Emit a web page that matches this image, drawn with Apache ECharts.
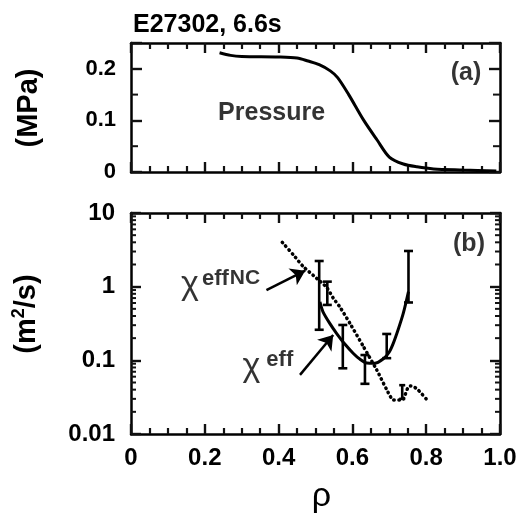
<!DOCTYPE html>
<html><head><meta charset="utf-8">
<script src="https://cdn.jsdelivr.net/npm/echarts@6/dist/echarts.min.js"></script>
<style>html,body{margin:0;padding:0;background:#fff}#c{width:522px;height:519px}</style>
</head><body><div id="c"></div>
<script>
// ---- tick labels ----
const xTickLabels = ['0', '0.2', '0.4', '0.6', '0.8', '1.0'];
const pTickLabels = ['0', '0.1', '0.2'];
const chiTickLabels = ['0.01', '0.1', '1', '10'];

// ---- panel (a): pressure profile ----
const pressureRho = [0.24, 0.27, 0.30, 0.40, 0.45, 0.48, 0.51, 0.54, 0.56, 0.59, 0.63, 0.667, 0.70, 0.738, 0.775, 0.82, 0.90, 0.99];
const pressureVal = [0.231, 0.226, 0.224, 0.223, 0.221, 0.215, 0.208, 0.196, 0.183, 0.150, 0.101, 0.062, 0.029, 0.0155, 0.010, 0.006, 0.004, 0.002];

// ---- panel (b): chi_eff^NC (dotted) ----
const ncRho = [0.41, 0.44, 0.467, 0.503, 0.53, 0.548, 0.566, 0.593, 0.63, 0.666, 0.693, 0.711, 0.735, 0.75, 0.758, 0.775, 0.80];
const ncVal = [4.0, 2.7, 1.87, 1.3, 0.98, 0.7, 0.53, 0.32, 0.153, 0.074, 0.040, 0.029, 0.029, 0.042, 0.045, 0.041, 0.030];

// ---- panel (b): chi_eff (solid) ----
const chiRho = [0.512, 0.52, 0.54, 0.557, 0.58, 0.602, 0.62, 0.639, 0.66, 0.684, 0.70, 0.711, 0.725, 0.738, 0.752];
const chiVal = [0.62, 0.46, 0.31, 0.233, 0.165, 0.125, 0.104, 0.092, 0.091, 0.105, 0.13, 0.171, 0.27, 0.436, 0.855];

// ---- error bars ----
const ebRho = [0.510, 0.532, 0.574, 0.634, 0.693, 0.752, 0.735];
const ebLow = [0.26, 0.565, 0.078, 0.048, 0.107, 0.61, 0.030];
const ebHigh = [2.23, 1.17, 0.302, 0.118, 0.228, 3.05, 0.046];

// ---- annotation anchors (data space) ----
const arrowFromRho = [0.367, 0.458];
const arrowFromVal = [0.90, 0.0634];
const arrowToRho = [0.472, 0.548];
const arrowToVal = [1.65, 0.221];
const chiLabelRho = [0.137, 0.3035];
const chiLabelVal = [0.748, 0.0577];
const chiLabelText = ['{chi|χ}{sub1|eff}{sup|NC}', '{chi|χ}{sub2|eff}'];
const aTextRho = [0.381, 0.908];
const aTextVal = [0.1146, 0.192];
const aTextStr = ['Pressure', '(a)'];
const bTextRho = [0.916];
const bTextVal = [3.8];
const bTextStr = ['(b)'];

const FONT = '"Liberation Sans", Arial, Helvetica, sans-serif';
const BLACK = '#000';
const TICK = '#111111';
const MINOR = '#121212';
const CTICK = '#131313';

const pMinor = [0.05, 0.15];
const logMinor = [];
for (const d of [0.01, 0.1, 1]) for (let k = 2; k <= 9; k++) logMinor.push(+(k * d).toPrecision(3));

function zip(a, b) { return a.map((v, i) => [v, b[i]]); }

function xAxisCfg(grid, pos, showLabel) {
  return {
    type: 'value', gridIndex: grid, position: pos, min: 0, max: 1, interval: 0.2,
    axisLine: { show: true, onZero: false, lineStyle: { color: BLACK, width: 2.5 } },
    axisTick: { show: true, inside: true, length: 10, lineStyle: { color: TICK, width: 2.4 } },
    minorTick: { show: true, splitNumber: 4, length: 6, lineStyle: { color: MINOR, width: 2.2 } },
    axisLabel: {
      show: showLabel, margin: 12, color: BLACK, fontFamily: FONT, fontWeight: 'bold', fontSize: 24,
      formatter: v => { const i = Math.round(v / 0.2); return Math.abs(v - i * 0.2) < 1e-6 ? xTickLabels[i] : ''; }
    },
    splitLine: { show: false }, minorSplitLine: { show: false }
  };
}
function yLinCfg(grid, pos, showLabel) {
  return {
    type: 'value', gridIndex: grid, position: pos, min: 0, max: 0.25, interval: 0.1,
    axisLine: { show: true, onZero: false, lineStyle: { color: BLACK, width: 2.5 } },
    axisTick: { show: true, inside: true, length: 11, lineStyle: { color: TICK, width: 2.4 } },
    axisLabel: {
      show: showLabel, margin: 15, color: BLACK, fontFamily: FONT, fontWeight: 'bold', fontSize: 22,
      formatter: v => { const i = Math.round(v / 0.1); return Math.abs(v - i * 0.1) < 1e-6 && i < pTickLabels.length ? pTickLabels[i] : ''; }
    },
    splitLine: { show: false }
  };
}
function yLogCfg(grid, pos, showLabel) {
  return {
    type: 'log', logBase: 10, gridIndex: grid, position: pos, min: 0.01, max: 10, splitNumber: 3,
    axisLine: { show: true, onZero: false, lineStyle: { color: BLACK, width: 2.5 } },
    axisTick: { show: true, inside: true, length: 10, lineStyle: { color: TICK, width: 2.4 } },
    axisLabel: {
      show: showLabel, margin: 16, color: BLACK, fontFamily: FONT, fontWeight: 'bold', fontSize: 24,
      showMinLabel: true, showMaxLabel: true,
      formatter: v => { const i = Math.round(Math.log10(v)) + 2; return chiTickLabels[i] || ''; }
    },
    splitLine: { show: false }
  };
}

function minorTickSeries(xi, yi, values, len) {
  return {
    type: 'custom', xAxisIndex: xi, yAxisIndex: yi, silent: true, clip: false, z: 5,
    data: values.map(v => [0, v]),
    renderItem: (params, api) => {
      const v = api.value(1);
      const l = api.coord([0, v]), r = api.coord([1, v]);
      const st = { stroke: CTICK, lineWidth: 2 };
      return { type: 'group', children: [
        { type: 'line', shape: { x1: l[0], y1: l[1], x2: l[0] + len, y2: l[1] }, style: st },
        { type: 'line', shape: { x1: r[0] - len, y1: r[1], x2: r[0], y2: r[1] }, style: st }
      ] };
    }
  };
}

function labelSeries(xi, yi, rhos, vals, strs, fs) {
  return {
    type: 'scatter', xAxisIndex: xi, yAxisIndex: yi, silent: true, z: 10,
    symbol: 'circle', symbolSize: 1, itemStyle: { color: 'rgba(0,0,0,0)' },
    data: zip(rhos, vals),
    label: {
      show: true, position: 'inside', align: 'center', verticalAlign: 'middle',
      color: BLACK, fontFamily: FONT, fontWeight: 'bold', fontSize: fs,
      formatter: p => strs[p.dataIndex]
    }
  };
}

const chart = echarts.init(document.getElementById('c'), null, { renderer: 'canvas' });
chart.setOption({
  animation: false,
  backgroundColor: '#fff',
  grid: [
    { left: 131, top: 43, width: 369, height: 129 },
    { left: 131, top: 213, width: 369, height: 221 }
  ],
  xAxis: [
    xAxisCfg(0, 'bottom', false),
    xAxisCfg(0, 'top', false),
    Object.assign(xAxisCfg(1, 'bottom', true), {
      name: 'ρ', nameLocation: 'middle', nameGap: 46,
      nameTextStyle: { color: BLACK, fontFamily: FONT, fontSize: 34, fontWeight: 'normal', padding: [0, 0, 0, 12] }
    }),
    xAxisCfg(1, 'top', false)
  ],
  yAxis: [
    yLinCfg(0, 'left', true),
    yLinCfg(0, 'right', false),
    yLogCfg(1, 'left', true),
    yLogCfg(1, 'right', false)
  ],
  graphic: [
    { type: 'text', x: 133, y: 25, style: { text: 'E27302, 6.6s', fill: BLACK, font: 'bold 25px ' + FONT, textAlign: 'left', textVerticalAlign: 'middle', align: 'left', verticalAlign: 'middle' } },
    { type: 'text', x: 29, y: 108, rotation: Math.PI / 2, style: { text: '(MPa)', fill: BLACK, font: 'bold 29px ' + FONT, textAlign: 'center', textVerticalAlign: 'middle', align: 'center', verticalAlign: 'middle' } },
    { type: 'text', x: 27, y: 314, rotation: Math.PI / 2, style: {
      text: '(m{sup|2}/s)', fill: BLACK, font: 'bold 29px ' + FONT, textAlign: 'center', textVerticalAlign: 'middle', align: 'center', verticalAlign: 'middle',
      rich: { sup: { fontSize: 18, fontWeight: 'bold', fontFamily: FONT, verticalAlign: 'top', lineHeight: 34, fill: BLACK } } } }
  ],
  series: [
    {
      type: 'line', xAxisIndex: 0, yAxisIndex: 0, data: zip(pressureRho, pressureVal),
      showSymbol: false, smooth: 0.3, lineStyle: { color: BLACK, width: 3 }, z: 3
    },
    minorTickSeries(0, 0, pMinor, 7),
    labelSeries(0, 0, aTextRho, aTextVal, aTextStr, 25),
    {
      type: 'line', xAxisIndex: 2, yAxisIndex: 2, data: zip(ncRho, ncVal),
      showSymbol: false, smooth: 0.2,
      lineStyle: { color: BLACK, width: 3.5, type: [0.5, 4.5], cap: 'round' }, z: 3
    },
    {
      type: 'line', xAxisIndex: 2, yAxisIndex: 2, data: zip(chiRho, chiVal),
      showSymbol: false, smooth: 0.3, lineStyle: { color: BLACK, width: 3 }, z: 3
    },
    {
      type: 'custom', xAxisIndex: 2, yAxisIndex: 2, silent: true, z: 4,
      data: ebRho.map((r, i) => [r, ebLow[i], ebHigh[i]]),
      encode: { x: 0, y: [1, 2] },
      renderItem: (params, api) => {
        const x = api.value(0);
        const a = api.coord([x, api.value(1)]), b = api.coord([x, api.value(2)]);
        const w = params.dataIndex === 6 ? 3 : 4.5;
        const st = { stroke: BLACK, lineWidth: 2.6 };
        return { type: 'group', children: [
          { type: 'line', shape: { x1: a[0], y1: a[1], x2: b[0], y2: b[1] }, style: st },
          { type: 'line', shape: { x1: a[0] - w, y1: a[1], x2: a[0] + w, y2: a[1] }, style: st },
          { type: 'line', shape: { x1: b[0] - w, y1: b[1], x2: b[0] + w, y2: b[1] }, style: st }
        ] };
      }
    },
    {
      type: 'lines', coordinateSystem: 'cartesian2d', xAxisIndex: 2, yAxisIndex: 2, z: 6,
      symbol: ['none', 'arrow'], symbolSize: [10, 14],
      lineStyle: { color: BLACK, width: 2.5, opacity: 1, curveness: 0 },
      data: arrowFromRho.map((r, i) => ({ coords: [[r, arrowFromVal[i]], [arrowToRho[i], arrowToVal[i]]] }))
    },
    {
      type: 'scatter', xAxisIndex: 2, yAxisIndex: 2, silent: true, z: 10,
      symbol: 'circle', symbolSize: 1, itemStyle: { color: 'rgba(0,0,0,0)' },
      data: zip(chiLabelRho, chiLabelVal),
      label: {
        show: true, position: [0, 0], align: 'left', verticalAlign: 'top', offset: [0, -28],
        color: BLACK, fontFamily: FONT,
        formatter: p => chiLabelText[p.dataIndex],
        rich: {
          chi: { fontSize: 34, fontWeight: 'normal', fontFamily: FONT, color: BLACK, lineHeight: 34, verticalAlign: 'top' },
          sub1: { fontSize: 22, fontWeight: 'bold', fontFamily: FONT, color: BLACK, lineHeight: 75, verticalAlign: 'top', padding: [0, 0, 0, 3] },
          sub2: { fontSize: 22, fontWeight: 'bold', fontFamily: FONT, color: BLACK, lineHeight: 72, verticalAlign: 'top', padding: [0, 0, 0, 6] },
          sup: { fontSize: 21, fontWeight: 'bold', fontFamily: FONT, color: BLACK, lineHeight: 41, verticalAlign: 'top', padding: [0, 0, 0, 1] }
        }
      }
    },
    labelSeries(2, 2, bTextRho, bTextVal, bTextStr, 25),
    minorTickSeries(2, 2, logMinor, 5)
  ]
});
</script>
</body></html>
